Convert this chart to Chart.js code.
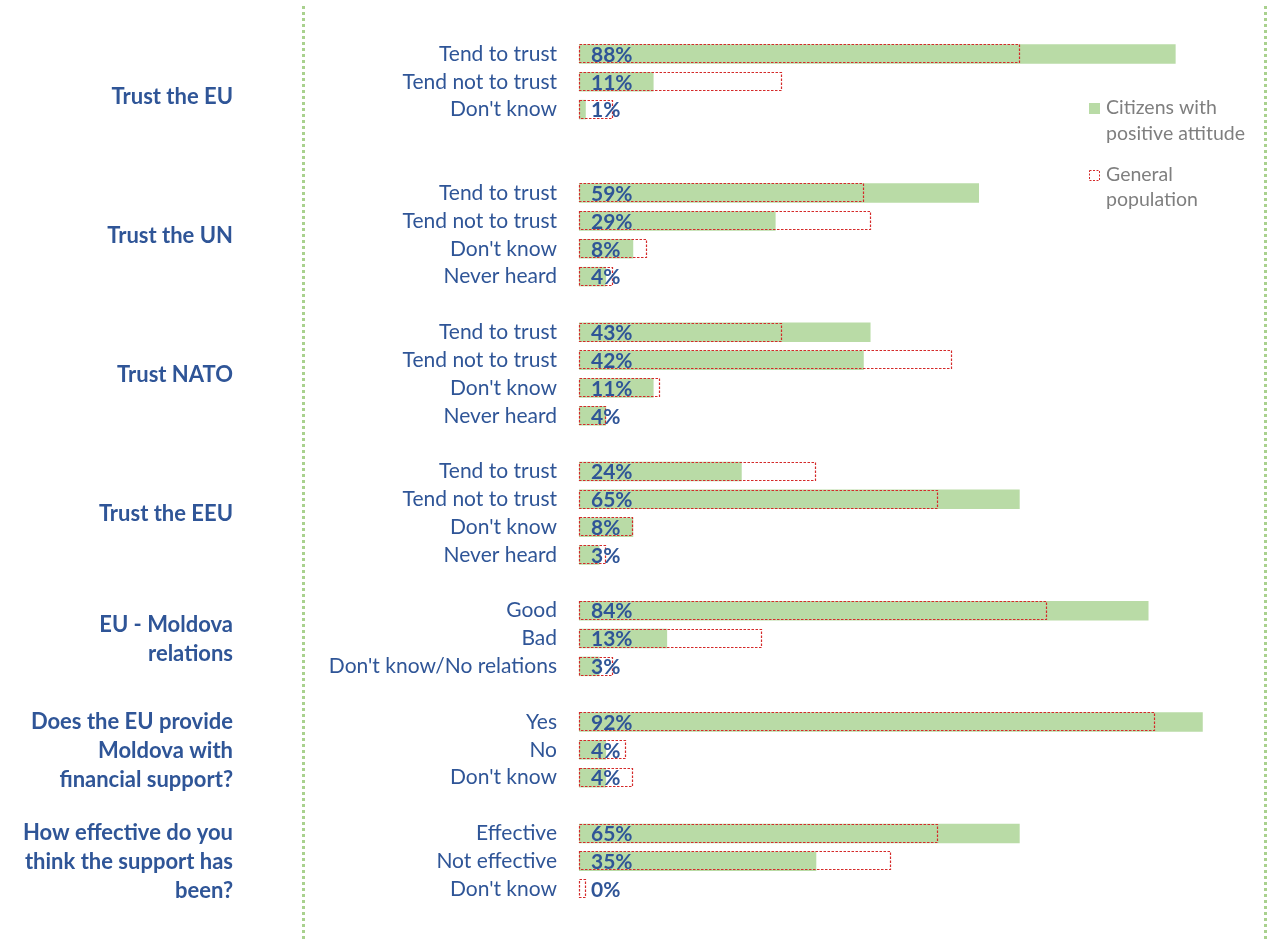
<!DOCTYPE html>
<html>
<head>
<meta charset="utf-8">
<script src="https://cdn.jsdelivr.net/npm/chart.js@4.4.1/dist/chart.umd.min.js"></script>
<style>
  html, body { margin: 0; padding: 0; background: #ffffff; }
  #wrap { width: 1271px; height: 939px; }
</style>
</head>
<body>
<div id="wrap"><canvas id="c" width="1271" height="939"></canvas></div>
<script>
// ---- data ----
const groupTitles = [
  ['Trust the EU'],
  ['Trust the UN'],
  ['Trust NATO'],
  ['Trust the EEU'],
  ['EU - Moldova', 'relations'],
  ['Does the EU provide', 'Moldova with', 'financial support?'],
  ['How effective do you', 'think the support has', 'been?']
];
const answers = [
  ['Tend to trust', 'Tend not to trust', "Don't know"],
  ['Tend to trust', 'Tend not to trust', "Don't know", 'Never heard'],
  ['Tend to trust', 'Tend not to trust', "Don't know", 'Never heard'],
  ['Tend to trust', 'Tend not to trust', "Don't know", 'Never heard'],
  ['Good', 'Bad', "Don't know/No relations"],
  ['Yes', 'No', "Don't know"],
  ['Effective', 'Not effective', "Don't know"]
];
const positiveAttitude = [
  [88, 11, 1],
  [59, 29, 8, 4],
  [43, 42, 11, 4],
  [24, 65, 8, 3],
  [84, 13, 3],
  [92, 4, 4],
  [65, 35, 0]
];
const generalPopulation = [
  [65, 30, 5],
  [42, 43, 10, 5],
  [30, 55, 12, 4],
  [35, 53, 8, 4],
  [69, 27, 5],
  [85, 7, 8],
  [53, 46, 1]
];
const seriesNames = ['Citizens with positive attitude', 'General population'];
const legendLines = [['Citizens with', 'positive attitude'], ['General', 'population']];

// ---- layout (blank rows after each group) ----
const blankAfter = [2, 1, 1, 1, 1, 1, 0];

const labels = [], posData = [], genData = [], groupSpans = [];
answers.forEach((ans, g) => {
  const start = labels.length;
  ans.forEach((a, i) => {
    labels.push(a);
    posData.push(positiveAttitude[g][i]);
    genData.push(generalPopulation[g][i]);
  });
  const end = labels.length - 1 + Math.max(0, blankAfter[g] - 1);
  groupSpans.push([start, end]);
  for (let k = 0; k < blankAfter[g]; k++) {
    labels.push('');
    posData.push(null);
    genData.push(null);
  }
});

const BLUE = '#2F5597';
const GREEN = '#B9DBA6';
const RED = '#D42A2A';
const FONT = 'Lato, "Open Sans", sans-serif';

const decorPlugin = {
  id: 'decor',
  beforeDraw(chart) {
    const ctx = chart.ctx;
    ctx.save();
    ctx.strokeStyle = '#A9D18E';
    ctx.lineWidth = 3;
    ctx.setLineDash([3, 3]);
    [303.5, 1265.5].forEach(x => {
      ctx.beginPath();
      ctx.moveTo(x, 6);
      ctx.lineTo(x, 939);
      ctx.stroke();
    });
    ctx.restore();
  },
  afterDatasetsDraw(chart) {
    const ctx = chart.ctx;
    const xs = chart.scales.x, ys = chart.scales.y;
    ctx.save();
    // dashed outlines for general population
    const meta1 = chart.getDatasetMeta(1);
    ctx.strokeStyle = RED;
    ctx.lineWidth = 1.2;
    ctx.setLineDash([2.5, 1.5]);
    meta1.data.forEach((el, i) => {
      if (genData[i] === null) return;
      const p = el.getProps(['x', 'y', 'base', 'height'], true);
      const left = Math.min(p.x, p.base), right = Math.max(p.x, p.base);
      ctx.strokeRect(Math.round(left) + 0.5, Math.round(p.y - p.height / 2) + 0.5,
                     Math.max(1, Math.round(right - left) - 1), Math.round(p.height) - 1);
    });
    ctx.setLineDash([]);
    // value labels (positive attitude)
    const meta0 = chart.getDatasetMeta(0);
    ctx.fillStyle = BLUE;
    ctx.font = 'bold 21px ' + FONT;
    ctx.textAlign = 'left';
    ctx.textBaseline = 'middle';
    const x0 = xs.getPixelForValue(0);
    meta0.data.forEach((el, i) => {
      if (posData[i] === null) return;
      ctx.fillText(posData[i] + '%', x0 + 12, el.y + 1);
    });
    // group titles
    ctx.font = 'bold 22px ' + FONT;
    ctx.textAlign = 'right';
    const lh = 29;
    groupSpans.forEach((s, g) => {
      const cy = (ys.getPixelForValue(s[0]) + ys.getPixelForValue(s[1])) / 2;
      const lines = groupTitles[g];
      lines.forEach((t, k) => {
        ctx.fillText(t, 233, cy + (k - (lines.length - 1) / 2) * lh + 1);
      });
    });
    // legend
    ctx.font = '19.5px ' + FONT;
    ctx.textAlign = 'left';
    ctx.fillStyle = GREEN;
    ctx.fillRect(1089, 103, 11, 11);
    ctx.strokeStyle = RED;
    ctx.lineWidth = 1;
    ctx.setLineDash([2, 1.5]);
    ctx.strokeRect(1089.5, 170.5, 10, 10);
    ctx.setLineDash([]);
    ctx.fillStyle = '#7F7F7F';
    legendLines[0].forEach((t, k) => ctx.fillText(t, 1106, 108 + k * 26));
    legendLines[1].forEach((t, k) => ctx.fillText(t, 1106, 175 + k * 25));
    ctx.restore();
  }
};

new Chart(document.getElementById('c'), {
  type: 'bar',
  data: {
    labels: labels,
    datasets: [
      {
        label: seriesNames[0],
        data: posData,
        backgroundColor: GREEN,
        borderWidth: 0,
        grouped: false,
        order: 2
      },
      {
        label: seriesNames[1],
        data: genData,
        backgroundColor: 'rgba(0,0,0,0)',
        borderColor: RED,
        borderWidth: 0,
        grouped: false,
        order: 1
      }
    ]
  },
  options: {
    indexAxis: 'y',
    responsive: false,
    devicePixelRatio: 1,
    animation: false,
    categoryPercentage: 1,
    barPercentage: 0.7,
    layout: { padding: { top: 40, bottom: 36, left: 0, right: 14 } },
    plugins: {
      legend: { display: false },
      tooltip: { enabled: false }
    },
    scales: {
      x: { display: false, min: 0, max: 100 },
      y: {
        grid: { display: false, drawTicks: false },
        border: { display: false },
        ticks: {
          autoSkip: false,
          padding: 22,
          color: BLUE,
          font: { family: FONT, size: 21 }
        },
        afterFit(scale) { scale.width = 579; }
      }
    }
  },
  plugins: [decorPlugin]
});
</script>
</body>
</html>
